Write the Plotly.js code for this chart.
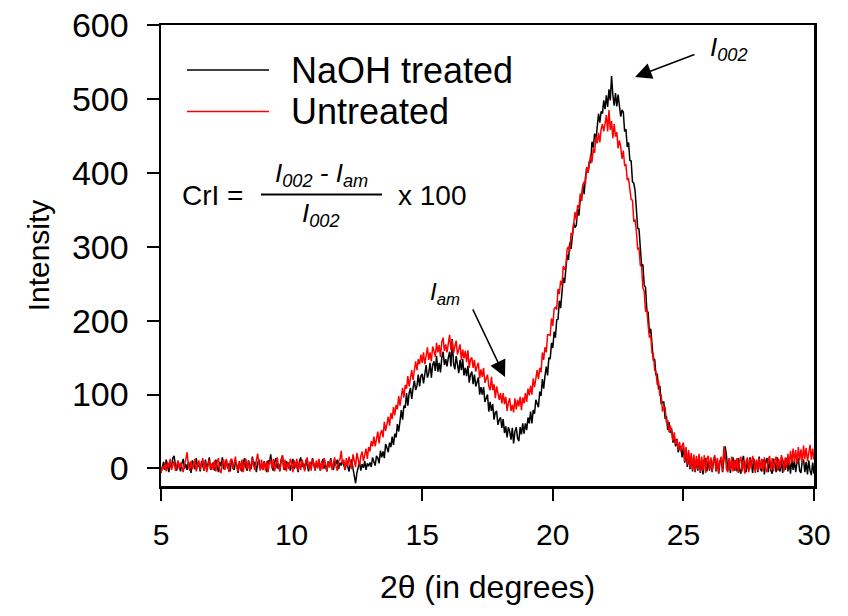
<!DOCTYPE html>
<html><head><meta charset="utf-8">
<script src="https://cdn.plot.ly/plotly-3.0.1.min.js"></script>
<style>html,body{margin:0;padding:0;background:#fff;} #chart{width:848px;height:616px;}</style>
</head><body><div id="chart"></div>
<script>
// ---- data ----
const twoThetaStart = 5;      // degrees
const twoThetaStep = 0.05;    // degrees between readings
const seriesNames = ['NaOH treated', 'Untreated'];
const xTickVals = [5, 10, 15, 20, 25, 30];
const yTickVals = [0, 100, 200, 300, 400, 500, 600];

const naohTreated = [
-6,4,9,-2,12,3,-5,8,1,14,17,5,-3,10,2,-4,7,13,0,6,
-2,9,3,-6,11,5,-1,14,2,7,-4,10,4,-3,12,0,6,15,-2,4,
8,-3,12,2,-5,9,3,15,-1,6,11,0,7,-4,13,4,-2,9,5,-6,
10,1,-4,8,14,2,-3,11,5,-1,16,3,9,-5,7,12,0,4,-2,10,
3,-5,11,6,19,2,-3,9,14,0,7,-4,12,17,1,-2,10,4,8,-3,
6,13,-1,8,3,-5,10,15,2,7,-2,12,4,-4,9,1,14,5,-3,8,
2,11,-3,7,13,0,5,-4,9,3,14,1,-2,10,6,12,-1,8,4,11,
5,-2,9,1,-4,7,12,0,-8,-20,-6,4,9,-3,6,1,10,-2,7,3,
8,2,15,9,4,17,14,7,24,15,23,14,33,28,22,35,29,43,32,47,
42,60,50,64,79,66,85,82,102,85,102,109,94,109,119,106,112,127,111,125,
128,115,129,140,123,129,143,123,140,145,132,152,131,143,130,150,158,140,148,138,
150,158,138,175,142,134,152,143,129,147,133,148,126,136,125,139,116,127,131,114,
127,111,116,123,100,110,100,110,90,95,100,77,90,78,87,66,76,77,59,66,
69,55,67,48,57,42,56,50,39,55,34,50,56,41,37,56,46,61,47,61,
52,69,61,77,61,79,74,93,88,83,104,98,121,108,125,138,126,150,148,170,
163,185,177,201,202,227,217,241,258,251,270,289,282,306,297,320,332,326,329,351,
342,364,363,384,371,394,407,400,416,413,442,434,453,444,467,480,468,483,480,498,
486,505,489,513,498,531,505,491,508,490,506,487,476,485,482,456,459,435,441,417,
416,388,386,376,345,325,324,303,274,276,248,245,214,211,183,189,163,146,148,126,
128,107,112,87,90,90,67,71,52,63,48,54,35,43,30,40,22,28,30,15,
30,8,24,2,21,-1,17,-4,15,-5,13,-3,16,-6,12,-8,11,14,-4,10,
-3,13,-5,10,16,-4,12,-7,9,14,-5,11,30,17,-3,13,-6,10,15,-3,
11,-4,14,-2,-7,10,17,-1,-5,12,-3,15,9,-6,13,-2,11,-5,16,-1,
-4,12,-8,10,14,-5,11,-3,-7,13,9,-5,15,-1,-4,12,-6,11,-2,14,
-4,10,-7,13,-2,11,-5,9,14,-3,-6,10,12,-5,9,-8,11,-3,-9,8,
-7];

const untreated = [
-6,3,-1,7,-4,9,1,13,-2,5,10,-3,4,11,-1,8,2,-5,6,12,
22,4,-3,10,-1,7,13,-4,6,11,-2,8,14,-3,9,-5,6,12,-1,7,
-2,11,-4,9,14,-3,-6,8,12,-2,13,1,-5,10,13,-1,7,16,2,-4,
9,-3,12,-5,7,13,-1,10,-4,8,14,3,-2,11,20,6,-3,12,-2,9,
-3,10,-5,8,12,0,13,-4,9,15,2,-3,11,18,-2,12,-4,9,-1,13,
8,-5,11,1,13,-3,9,-2,12,6,-4,10,15,-1,9,-3,12,7,-2,11,
0,13,-3,9,-1,14,6,-4,10,1,12,-2,8,15,3,-3,10,12,24,6,
12,-2,14,3,16,5,-1,19,8,2,21,9,4,17,23,10,20,27,13,29,
23,37,30,43,30,42,50,34,47,52,42,63,51,60,70,58,75,67,83,72,
86,80,98,85,99,109,96,113,108,125,111,123,133,120,136,145,133,148,141,154,
143,157,141,156,164,147,157,145,165,159,151,170,157,167,151,171,177,159,168,157,
171,181,160,173,156,167,173,154,162,168,147,161,149,159,144,160,136,148,150,136,
147,131,138,143,122,134,124,136,116,123,127,111,106,124,106,114,95,111,104,93,
102,88,102,87,97,78,89,95,78,86,76,95,80,93,84,97,79,96,88,102,
90,108,99,112,100,122,110,123,133,121,136,130,157,147,164,157,181,181,180,203,
193,216,218,215,243,236,254,248,274,269,274,297,300,294,319,315,331,347,336,356,
352,372,362,384,388,385,408,400,412,425,414,433,427,449,440,454,441,459,466,456,
467,478,456,485,458,470,447,466,449,455,433,444,435,419,430,410,411,391,392,373,
364,363,335,336,321,297,298,275,273,244,240,212,216,194,177,180,156,155,133,131,
113,118,98,100,77,83,83,62,65,49,58,50,37,49,33,39,25,36,23,31,
35,10,29,5,25,1,21,-2,19,-4,17,-1,20,-5,16,-3,18,-6,13,17,
-2,15,-4,12,18,-3,14,-6,11,16,-4,30,19,-1,-5,14,-2,16,-4,12,
-3,14,-6,11,16,-4,12,-7,10,15,-5,13,-1,17,11,-6,12,-3,14,-1,
13,-3,15,-1,-5,12,17,-2,14,-4,11,16,-3,13,0,18,12,-4,15,1,
20,4,24,8,27,9,25,6,29,11,26,8,31,13,28,10,25,32,12,27,
12];

// ---- build ----
const twoTheta = naohTreated.map((_, i) => +(twoThetaStart + i * twoThetaStep).toFixed(2));
const FONT = '"Liberation Sans", Arial, Helvetica, sans-serif';
const XR = [5, 30], YR = [-23.7, 600];
// pixel -> paper helpers for decorations (plot area 161..814 x 25..486)
const PL = 161, PR = 814, PT = 25, PB = 486;
const px = v => (v - PL) / (PR - PL);
const py = v => (PB - v) / (PB - PT);

const traces = [
  {x: twoTheta, y: naohTreated, name: seriesNames[0], type: 'scatter', mode: 'lines',
   line: {color: '#000000', width: 1.5}},
  {x: twoTheta, y: untreated, name: seriesNames[1], type: 'scatter', mode: 'lines',
   line: {color: '#ff0000', width: 1.5}}
];

const ann = (text, x, y, size, xanchor, yanchor) => ({
  text, x, y, xref: 'paper', yref: 'paper', showarrow: false,
  xanchor: xanchor || 'left', yanchor: yanchor || 'middle',
  font: {family: FONT, size, color: '#000'}
});

const layout = {
  width: 848, height: 616,
  margin: {l: PL, r: 848 - PR, t: PT, b: 616 - PB, pad: 0},
  paper_bgcolor: '#fff', plot_bgcolor: '#fff',
  showlegend: false,
  font: {family: FONT, color: '#000'},
  xaxis: {
    range: XR, tickmode: 'array', tickvals: xTickVals, ticktext: xTickVals.map(String),
    ticks: 'outside', ticklen: 12, tickwidth: 2, tickcolor: '#000',
    showline: true, linewidth: 2.5, linecolor: '#000', mirror: true,
    showgrid: false, zeroline: false, ticklabelstandoff: 8,
    tickfont: {family: FONT, size: 30, color: '#000'},
    title: {text: '2θ (in degrees)', font: {family: FONT, size: 32, color: '#000'}, standoff: 26}
  },
  yaxis: {
    range: YR, tickmode: 'array', tickvals: yTickVals, ticktext: yTickVals.map(String),
    ticks: 'outside', ticklen: 12, tickwidth: 2, tickcolor: '#000',
    showline: true, linewidth: 2.5, linecolor: '#000', mirror: true,
    showgrid: false, zeroline: false, ticklabelstandoff: 11,
    tickfont: {family: FONT, size: 34, color: '#000'},
    title: {text: 'Intensity', font: {family: FONT, size: 30, color: '#000'}, standoff: 14}
  },
  shapes: [
    {type: 'line', xref: 'paper', yref: 'paper', x0: px(187), x1: px(269), y0: py(70), y1: py(70),
     line: {color: '#000', width: 1.3}},
    {type: 'line', xref: 'paper', yref: 'paper', x0: px(187), x1: px(269), y0: py(111.5), y1: py(111.5),
     line: {color: '#ff0000', width: 1.3}},
    {type: 'line', xref: 'paper', yref: 'paper', x0: px(261), x1: px(382), y0: py(194.5), y1: py(194.5),
     line: {color: '#000', width: 2}}
  ],
  annotations: [
    ann(seriesNames[0], px(289), py(70), 36),
    ann(seriesNames[1], px(289), py(111), 36),
    ann('CrI =', px(180), py(195), 28),
    ann('<i>I<sub>002</sub> - I<sub>am</sub></i>', px(321), py(193), 26, 'center', 'bottom'),
    ann('<i>I<sub>002</sub></i>', px(321), py(196), 26, 'center', 'top'),
    ann('x 100', px(396), py(196), 28),
    ann('<i>I<sub>002</sub></i>', px(708), py(49), 26),
    ann('<i>I<sub>am</sub></i>', px(428), py(293), 24),
    {x: 23.15, y: 529.7, ax: 25.48, ay: 560.8, xref: 'x', yref: 'y', axref: 'x', ayref: 'y',
     text: '', showarrow: true, arrowhead: 2, arrowsize: 2.2, arrowwidth: 1.5, arrowcolor: '#000', standoff: 0},
    {x: 18.17, y: 123.8, ax: 16.91, ay: 217.2, xref: 'x', yref: 'y', axref: 'x', ayref: 'y',
     text: '', showarrow: true, arrowhead: 2, arrowsize: 2.2, arrowwidth: 1.5, arrowcolor: '#000', standoff: 0}
  ]
};

Plotly.newPlot('chart', traces, layout, {staticPlot: true, displayModeBar: false});
</script>
</body></html>
